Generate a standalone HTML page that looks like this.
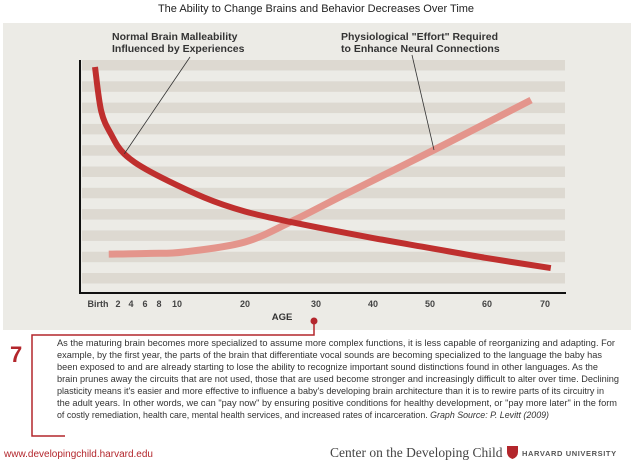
<!DOCTYPE html>
<html><head><meta charset="utf-8"><style>
body{margin:0;width:632px;height:468px;background:#fff;overflow:hidden;font-family:"Liberation Sans",sans-serif}
svg{position:absolute;left:0;top:0}
</style></head><body>
<svg width="632" height="468">
<text x="316" y="12" text-anchor="middle" font-size="11" fill="#222">The Ability to Change Brains and Behavior Decreases Over Time</text>
<rect x="3" y="23" width="628" height="307" fill="#ecebe6"/>
<g id="stripes"></g>
<g id="series"></g>
<line x1="80" y1="60" x2="80" y2="294" stroke="#111" stroke-width="2"/>
<line x1="79" y1="293" x2="566" y2="293" stroke="#111" stroke-width="2"/>
<g id="ticks" font-size="9" font-weight="bold" fill="#444"></g>
<text x="282" y="320" text-anchor="middle" font-size="9.5" font-weight="bold" fill="#333">AGE</text>
<g font-size="10.5" font-weight="bold" fill="#333">
<text x="112" y="40"><tspan x="112">Normal Brain Malleability</tspan><tspan x="112" dy="12">Influenced by Experiences</tspan></text>
<text x="341" y="40"><tspan x="341">Physiological "Effort" Required</tspan><tspan x="341" dy="12">to Enhance Neural Connections</tspan></text>
</g>
<path d="M314,322 V335 H32 V436 H65" fill="none" stroke="#b3262c" stroke-width="1.5"/>
<circle cx="314" cy="321" r="3.5" fill="#b3262c"/>
<text x="10" y="362" font-size="22" font-weight="bold" fill="#b3262c">7</text>
<g font-size="8.8" fill="#333">
<text x="57" y="346" textLength="558" lengthAdjust="spacingAndGlyphs">As the maturing brain becomes more specialized to assume more complex functions, it is less capable of reorganizing and adapting. For</text>
<text x="57" y="358" textLength="545" lengthAdjust="spacingAndGlyphs">example, by the first year, the parts of the brain that differentiate vocal sounds are becoming specialized to the language the baby has</text>
<text x="57" y="370" textLength="541" lengthAdjust="spacingAndGlyphs">been exposed to and are already starting to lose the ability to recognize important sound distinctions found in other languages. As the</text>
<text x="57" y="382" textLength="562" lengthAdjust="spacingAndGlyphs">brain prunes away the circuits that are not used, those that are used become stronger and increasingly difficult to alter over time. Declining</text>
<text x="57" y="394" textLength="547" lengthAdjust="spacingAndGlyphs">plasticity means it's easier and more effective to influence a baby's developing brain architecture than it is to rewire parts of its circuitry in</text>
<text x="57" y="406" textLength="560" lengthAdjust="spacingAndGlyphs">the adult years. In other words, we can "pay now" by ensuring positive conditions for healthy development, or "pay more later" in the form</text>
<text x="57" y="418" textLength="492" lengthAdjust="spacingAndGlyphs">of costly remediation, health care, mental health services, and increased rates of incarceration. <tspan font-style="italic">Graph Source: P. Levitt (2009)</tspan></text>
</g>
<text x="4" y="457" font-size="10" fill="#b3262c">www.developingchild.harvard.edu</text>
<text x="330" y="457" font-size="13.5" fill="#444" font-family="Liberation Serif,serif">Center on the Developing Child</text>
<path d="M507,446 h11 v6 q0,5 -5.5,7 q-5.5,-2 -5.5,-7z" fill="#b3262c"/>
<text x="522" y="456" font-size="7.5" font-weight="bold" fill="#555" letter-spacing="0.6">HARVARD UNIVERSITY</text>
</svg>
<script>
const tickAges=[0,2,4,6,8,10,20,30,40,50,60,70];
const tickLabels=["Birth","2","4","6","8","10","20","30","40","50","60","70"];
const tickLabelX=[98,118,131,145,159,177,245,316,373,430,487,545];
const knotAges=[0,2,10,20,30,40,50,60,70,75];
const knotPx=[95,120,177,245,310,373,430,487,545,574];
const malleabilityAges=[0,0.5,1.3,2.6,6.3,14,20,27,40,50,60,71];
const malleabilityValues=[97,78,68,59.7,52,41,35,30.5,23.6,19.3,15,10.7];
const effortAges=[1.1,6.3,11,20,27.6,35,50.7,67.6];
const effortValues=[16.7,17,17.6,21.9,31.3,41.6,61.4,82.8];
const NS="http://www.w3.org/2000/svg";
function xs(a){for(let i=0;i<knotAges.length-1;i++){if(a<=knotAges[i+1]||i==knotAges.length-2){const t=(a-knotAges[i])/(knotAges[i+1]-knotAges[i]);return knotPx[i]+t*(knotPx[i+1]-knotPx[i]);}}}
function ys(v){return 293-v*2.33;}
function el(t,a,p){const e=document.createElementNS(NS,t);for(const k in a)e.setAttribute(k,a[k]);p.appendChild(e);return e;}
const st=document.getElementById('stripes');
for(let i=0;i<11;i++){const r=el('rect',{x:82,y:60+i*21.3,width:483,height:10.5,fill:'#ddd9d1'},st);

}
const tk=document.getElementById('ticks');
tickLabels.forEach((l,i)=>{const t=el('text',{x:tickLabelX[i],y:307,'text-anchor':'middle'},tk);t.textContent=l;

});
function path(ages,vals){const p=ages.map((a,i)=>[xs(a),ys(vals[i])]);let d='M'+p[0];
for(let i=0;i<p.length-1;i++){const p0=p[i-1]||p[i],p1=p[i],p2=p[i+1],p3=p[i+2]||p2;
d+=' C'+[p1[0]+(p2[0]-p0[0])/6,p1[1]+(p2[1]-p0[1])/6]+' '+[p2[0]-(p3[0]-p1[0])/6,p2[1]-(p3[1]-p1[1])/6]+' '+p2;}return d;}
const sg=document.getElementById('series');
const e=el('path',{d:path(effortAges,effortValues),fill:'none',stroke:'#e4958c','stroke-width':7},sg);


const m=el('path',{d:path(malleabilityAges,malleabilityValues),fill:'none',stroke:'#bf2f2e','stroke-width':6},sg);


const l1=el('line',{x1:190,y1:57,x2:xs(2.6),y2:ys(59.7),stroke:'#333','stroke-width':0.8},sg);


const l2=el('line',{x1:412,y1:55,x2:xs(50.7),y2:ys(61.4),stroke:'#333','stroke-width':0.8},sg);


</script>
</body></html>
